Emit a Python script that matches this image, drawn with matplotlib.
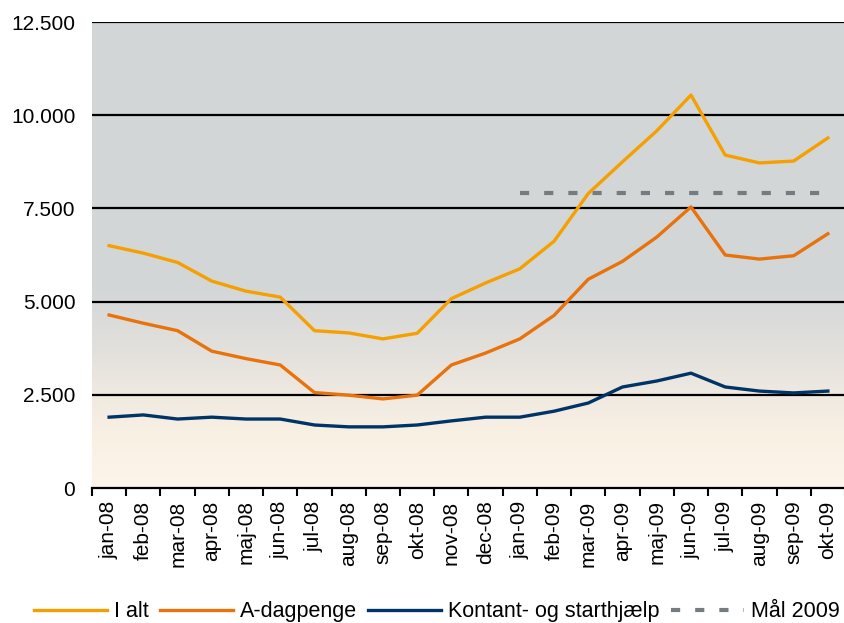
import numpy as np
import matplotlib.pyplot as plt
from matplotlib.colors import LinearSegmentedColormap
from matplotlib.lines import Line2D

plt.rcParams['font.family'] = ['Liberation Sans', 'DejaVu Sans']

months = ['jan-08', 'feb-08', 'mar-08', 'apr-08', 'maj-08', 'jun-08', 'jul-08',
          'aug-08', 'sep-08', 'okt-08', 'nov-08', 'dec-08', 'jan-09', 'feb-09',
          'mar-09', 'apr-09', 'maj-09', 'jun-09', 'jul-09', 'aug-09', 'sep-09', 'okt-09']

i_alt = [6500, 6300, 6050, 5550, 5280, 5120, 4220, 4160, 4000, 4150, 5080,
         5500, 5880, 6620, 7900, 8750, 9580, 10540, 8930, 8720, 8770, 9390]
a_dagpenge = [4640, 4420, 4220, 3670, 3470, 3300, 2560, 2490, 2390, 2490, 3300,
              3620, 4000, 4630, 5600, 6080, 6730, 7540, 6250, 6140, 6230, 6820]
kontant = [1900, 1960, 1850, 1900, 1850, 1850, 1690, 1640, 1640, 1690, 1800,
           1900, 1900, 2060, 2280, 2710, 2870, 3080, 2710, 2600, 2550, 2600]
maal_2009 = 7920
maal_months = months[12:]

fig = plt.figure(figsize=(8.45, 6.23), dpi=100)
ax = fig.add_axes([92 / 845, 1 - 488 / 623, 1 - 92 / 845, 466 / 623])

x = np.arange(len(months))

# background gradient: grey top, light peach bottom
stops = [(0.0, '#fdf5e9'), (0.12, '#f9f0e4'), (0.3, '#e2e0dc'), (0.42, '#d4d7d8'), (1.0, '#d3d6d7')]
cmap = LinearSegmentedColormap.from_list('bg', stops)
grad = np.linspace(0, 1, 256).reshape(-1, 1)
ax.imshow(grad, cmap=cmap, aspect='auto', origin='lower',
          extent=[-0.5, len(months) - 0.5, 0, 12500], zorder=0)

for yv in [2500, 5000, 7500, 10000, 12500]:
    ax.axhline(yv, color='black', lw=1.6, zorder=1)

ax.plot(x, i_alt, color='#f5a000', lw=2.4, zorder=3, label='I alt')
ax.plot(x, a_dagpenge, color='#e8720c', lw=2.4, zorder=3, label='A-dagpenge')
ax.plot(x, kontant, color='#003466', lw=2.4, zorder=3, label='Kontant- og starthjælp')
mx = [months.index(m) for m in maal_months]
ax.plot(mx, [maal_2009] * len(mx), color='#757b7e', lw=3, dashes=(2.2, 3.6), zorder=2, label='Mål 2009')

ax.set_xlim(-0.5, len(months) - 0.5)
ax.set_ylim(0, 12500)
ax.set_yticks([0, 2500, 5000, 7500, 10000, 12500])
ax.set_yticklabels(['0', '2.500', '5.000', '7.500', '10.000', '12.500'], fontsize=15)
ax.tick_params(axis='y', length=0, pad=12)

ax.set_xticks(x)
ax.set_xticklabels(months, rotation=90, fontsize=15)
ax.set_xticks(np.arange(len(months) + 1) - 0.5, minor=True)
ax.tick_params(axis='x', which='major', length=0, pad=9)
ax.tick_params(axis='x', which='minor', length=6, width=1.5, direction='out', color='black')

for s in ['top', 'right', 'left']:
    ax.spines[s].set_visible(False)
ax.spines['bottom'].set_linewidth(1.6)

handles = [Line2D([], [], color='#f5a000', lw=2.4),
           Line2D([], [], color='#e8720c', lw=2.4),
           Line2D([], [], color='#003466', lw=2.4),
           Line2D([], [], color='#757b7e', lw=3, dashes=(2.2, 3.6))]
fig.legend(handles, ['I alt', 'A-dagpenge', 'Kontant- og starthjælp', 'Mål 2009'],
           loc='lower center', bbox_to_anchor=(0.517, -0.03), ncol=4, frameon=False,
           fontsize=15.5, handlelength=3.4, handletextpad=0.33, columnspacing=0.5)

fig.savefig('out.png', dpi=100)
